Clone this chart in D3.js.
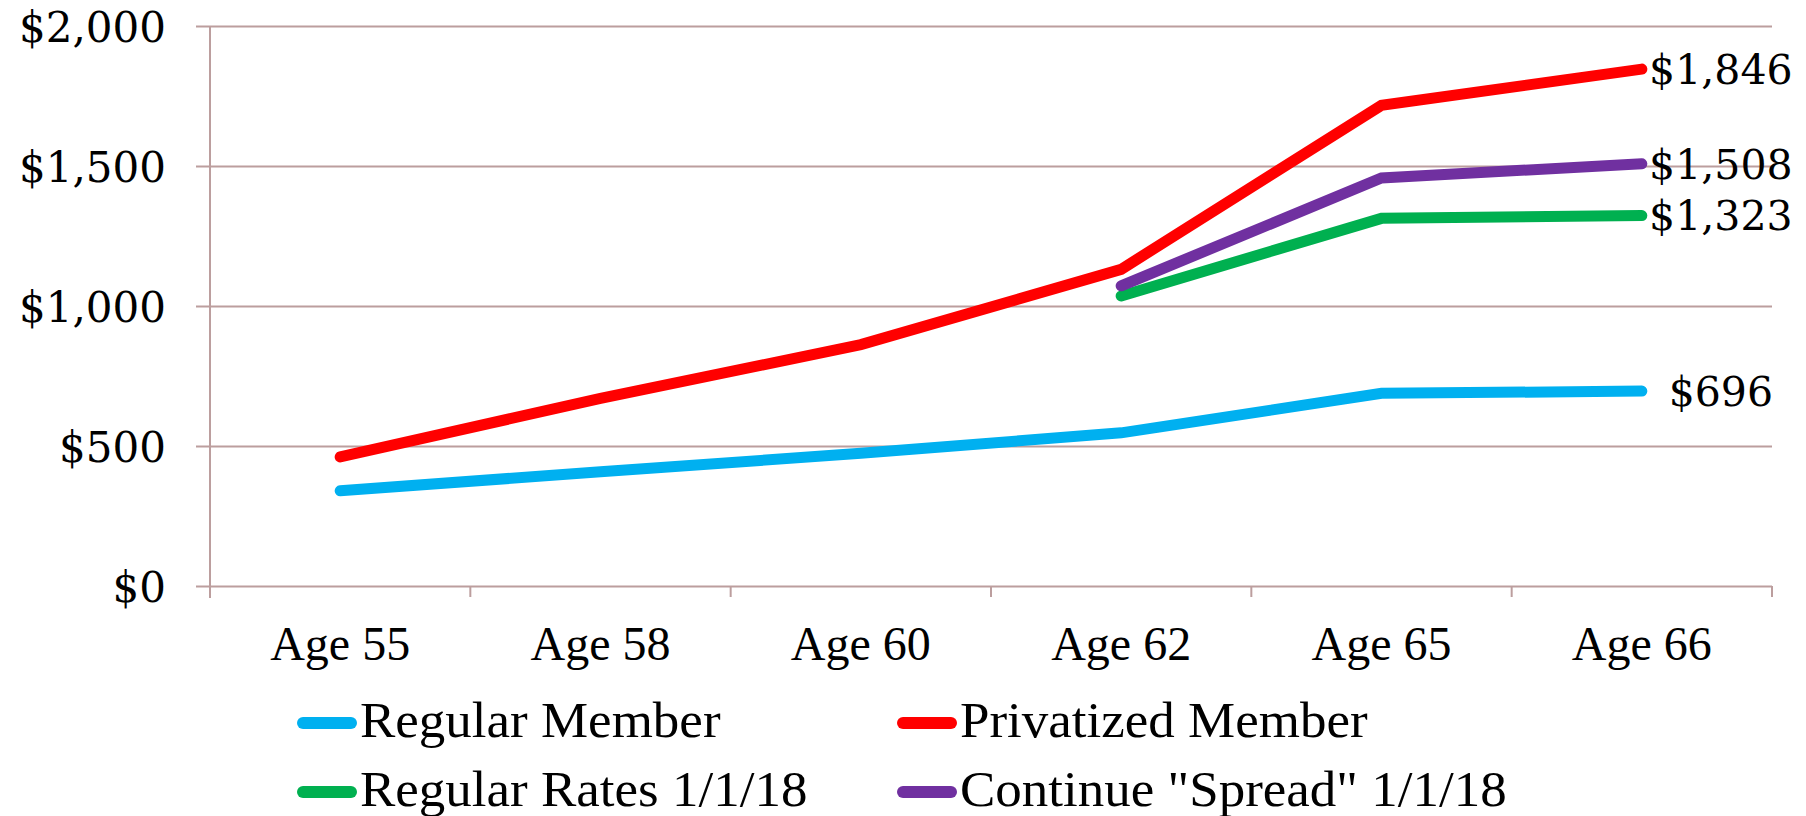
<!DOCTYPE html>
<html>
<head>
<meta charset="utf-8">
<script src="https://cdn.jsdelivr.net/npm/d3@7"></script>
<style>
  html, body { margin: 0; padding: 0; background: #ffffff; }
  svg { display: block; }
</style>
</head>
<body>
<svg id="chart" width="1806" height="816"></svg>
<script>
// ---- Data ----
const categories = ["Age 55", "Age 58", "Age 60", "Age 62", "Age 65", "Age 66"];
const regularMember = [340, 408, 474, 547, 688, 696];
const privatizedMember = [461, 670, 862, 1131, 1717, 1846];
const regularRates = [null, null, null, 1036, 1313, 1323];
const continueSpread = [null, null, null, 1072, 1457, 1508];
const seriesNames = ["Regular Member", "Privatized Member", "Regular Rates 1/1/18", "Continue \"Spread\" 1/1/18"];
const yTicks = [0, 500, 1000, 1500, 2000];

const seriesColors = ["#00B0F0", "#FF0000", "#00B050", "#7030A0"];
const seriesValues = [regularMember, privatizedMember, regularRates, continueSpread];

(function () {
// ---- Layout ----
const svg = d3.select("#chart");
const plotLeft = 210, plotRight = 1772, plotTop = 26, plotBottom = 586;
const gridColor = "#BC9E9E";

const x = d3.scaleBand().domain(categories).range([plotLeft, plotRight]).padding(0);
const y = d3.scaleLinear().domain([0, 2000]).range([plotBottom, plotTop]);

// gridlines + y axis labels
const yAxis = d3.axisLeft(y)
  .tickValues(yTicks)
  .tickSize(-(plotRight - plotLeft))
  .tickPadding(44)
  .tickFormat(d => "$" + d3.format(",")(d));
const gy = svg.append("g").attr("transform", `translate(${plotLeft},0)`).call(yAxis);
gy.select(".domain").remove();
gy.selectAll(".tick line")
  .attr("x1", -14)
  .attr("stroke", gridColor)
  .attr("stroke-width", 2);
gy.selectAll(".tick text")
  .attr("font-family", "'DejaVu Serif', serif")
  .attr("font-size", 42)
  .attr("fill", "#000")
  .attr("dy", "0.36em");

// vertical axis line
svg.append("line")
  .attr("x1", plotLeft).attr("x2", plotLeft)
  .attr("y1", y(2000)).attr("y2", plotBottom + 12)
  .attr("stroke", gridColor).attr("stroke-width", 2);

// bottom category ticks at band boundaries
const boundaries = categories.map(c => x(c)).concat([x.range()[1]]);
svg.append("g").selectAll("line").data(boundaries).join("line")
  .attr("x1", d => d).attr("x2", d => d)
  .attr("y1", plotBottom).attr("y2", plotBottom + 11)
  .attr("stroke", gridColor).attr("stroke-width", 2);

// x labels
const xAxis = d3.axisBottom(x).tickSize(0).tickPadding(0);
const gx = svg.append("g").attr("transform", `translate(0,${plotBottom})`).call(xAxis);
gx.select(".domain").remove();
gx.selectAll(".tick text")
  .attr("font-family", "'Liberation Serif', 'Times New Roman', serif")
  .attr("font-size", 48)
  .attr("fill", "#000")
  .attr("y", 74)
  .attr("dy", 0);

// lines
const cx = (i) => x(categories[i]) + x.bandwidth() / 2;
const line = d3.line()
  .defined(d => d != null)
  .x((d, i) => cx(i))
  .y(d => y(d));

seriesValues.forEach((vals, k) => {
  svg.append("path")
    .datum(vals)
    .attr("d", line)
    .attr("fill", "none")
    .attr("stroke", seriesColors[k])
    .attr("stroke-width", 11)
    .attr("stroke-linecap", "round")
    .attr("stroke-linejoin", "miter");
});

// end labels
seriesValues.forEach((vals, k) => {
  const i = vals.length - 1;
  const v = vals[i];
  svg.append("text")
    .attr("x", cx(i) + 79)
    .attr("y", y(v))
    .attr("dy", "0.36em")
    .attr("text-anchor", "middle")
    .attr("font-family", "'DejaVu Serif', serif")
    .attr("font-size", 41)
    .attr("fill", "#000")
    .text("$" + d3.format(",")(v));
});

// legend
const legendCols = [297, 897];
const legendRows = [723, 792];
seriesNames.forEach((name, k) => {
  const lx = legendCols[k % 2];
  const ly = legendRows[Math.floor(k / 2)];
  svg.append("line")
    .attr("x1", lx + 6).attr("x2", lx + 54)
    .attr("y1", ly).attr("y2", ly)
    .attr("stroke", seriesColors[k])
    .attr("stroke-width", 12)
    .attr("stroke-linecap", "round");
  svg.append("text")
    .attr("transform", `translate(${lx + 63},${ly + 14}) scale(1.06,1)`)
    .attr("font-family", "'Liberation Serif', 'Times New Roman', serif")
    .attr("font-size", 50)
    .attr("fill", "#000")
    .text(name);
});
})();
</script>
</body>
</html>
